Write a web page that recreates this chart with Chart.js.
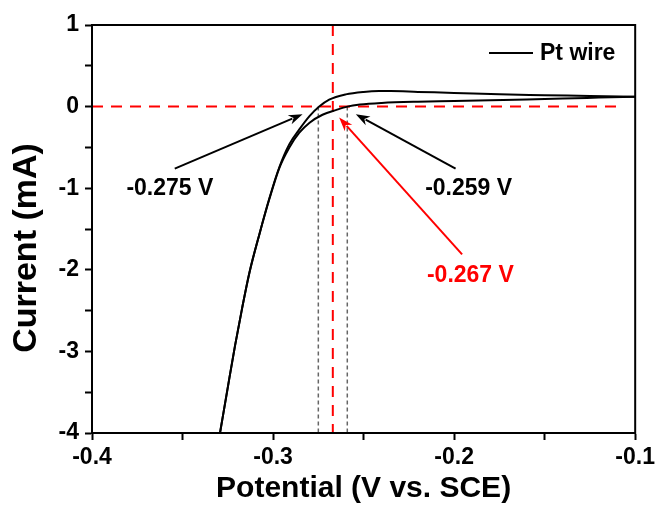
<!DOCTYPE html>
<html>
<head>
<meta charset="utf-8">
<script src="https://cdn.jsdelivr.net/npm/chart.js@4.4.1/dist/chart.umd.min.js"></script>
<style>
  html, body { margin: 0; padding: 0; background: #fff; }
  #wrap { width: 659px; height: 511px; }
</style>
</head>
<body>
<div id="wrap"><canvas id="lsv"></canvas></div>
<script>
// forward scan (lower branch), -0.1 V going negative
var fwdX = [-0.10, -0.12, -0.14, -0.16, -0.18, -0.20, -0.22, -0.24, -0.252, -0.259, -0.265, -0.2727, -0.28, -0.2855, -0.291, -0.2965, -0.302, -0.3075, -0.313, -0.317, -0.321, -0.325, -0.329, -0.331];
var fwdY = [0.12, 0.11, 0.10, 0.088, 0.078, 0.068, 0.06, 0.045, 0.025, 0.0, -0.04, -0.10, -0.20, -0.32, -0.50, -0.75, -1.13, -1.56, -2.03, -2.46, -2.93, -3.44, -3.96, -4.22];

// reverse scan (upper branch), back to -0.1 V
var revX = [-0.331, -0.329, -0.325, -0.321, -0.317, -0.313, -0.3075, -0.302, -0.2965, -0.291, -0.2855, -0.28, -0.2745, -0.269, -0.2598, -0.25, -0.2414, -0.235, -0.22, -0.20, -0.175, -0.15, -0.125, -0.10];
var revY = [-4.22, -3.96, -3.44, -2.93, -2.46, -2.03, -1.56, -1.12, -0.74, -0.46, -0.28, -0.12, 0.0, 0.085, 0.15, 0.18, 0.19, 0.19, 0.18, 0.168, 0.15, 0.14, 0.13, 0.12];

// onset potentials (V)
var onsetFwd = -0.259;
var onsetRev = -0.275;
var onsetMean = -0.267;

var xTicks = [-0.4, -0.3, -0.2, -0.1];
var yTicks = [1, 0, -1, -2, -3, -4];

var seriesName = 'Pt wire';

function pts(xs, ys) {
    return xs.map(function (x, i) { return {x: x, y: ys[i]}; });
}

var FONT = '"Liberation Sans", Arial, sans-serif';

// box, legend, y title, arrows and labels
var decorPlugin = {
    id: 'decor',
    afterDatasetsDraw: function (chart) {
        var ctx = chart.ctx;
        var a = chart.chartArea;
        var xs = chart.scales.x, ys = chart.scales.y;
        var px = function (v) { return xs.getPixelForValue(v); };
        var py = function (v) { return ys.getPixelForValue(v); };

        ctx.save();
        ctx.strokeStyle = '#000';
        ctx.lineWidth = 2;
        ctx.strokeRect(a.left, a.top, a.right - a.left, a.bottom - a.top);

        // legend
        ctx.beginPath();
        ctx.lineWidth = 2;
        ctx.moveTo(489, 53);
        ctx.lineTo(533, 53);
        ctx.stroke();
        ctx.fillStyle = '#000';
        ctx.font = 'bold 23px ' + FONT;
        ctx.textAlign = 'left';
        ctx.textBaseline = 'middle';
        ctx.fillText(seriesName, 540, 54);

        // y axis title (sits a bit below the axis centre in the original)
        ctx.save();
        ctx.translate(27, 248);
        ctx.rotate(-Math.PI / 2);
        ctx.textAlign = 'center';
        ctx.font = 'bold 34px ' + FONT;
        ctx.fillText('Current (mA)', 0, 0);
        ctx.restore();

        function arrow(x0, y0, x1, y1, color) {
            var X0 = px(x0), Y0 = py(y0), X1 = px(x1), Y1 = py(y1);
            var ang = Math.atan2(Y1 - Y0, X1 - X0);
            var len = 14, w = 5;
            ctx.strokeStyle = color;
            ctx.fillStyle = color;
            ctx.lineWidth = 2;
            ctx.beginPath();
            ctx.moveTo(X0, Y0);
            ctx.lineTo(X1 - Math.cos(ang) * len * 0.8, Y1 - Math.sin(ang) * len * 0.8);
            ctx.stroke();
            ctx.beginPath();
            ctx.moveTo(X1, Y1);
            ctx.lineTo(X1 - Math.cos(ang) * len + Math.sin(ang) * w, Y1 - Math.sin(ang) * len - Math.cos(ang) * w);
            ctx.lineTo(X1 - Math.cos(ang) * len * 0.7, Y1 - Math.sin(ang) * len * 0.7);
            ctx.lineTo(X1 - Math.cos(ang) * len - Math.sin(ang) * w, Y1 - Math.sin(ang) * len + Math.cos(ang) * w);
            ctx.closePath();
            ctx.fill();
        }
        arrow(-0.3543, -0.76, -0.2837, -0.094, '#000');
        arrow(-0.1992, -0.76, -0.2543, -0.094, '#000');
        arrow(-0.1956, -1.81, -0.2635, -0.135, '#f00');

        ctx.font = 'bold 23px ' + FONT;
        ctx.textAlign = 'center';
        ctx.fillStyle = '#000';
        ctx.fillText(onsetRev.toFixed(3) + ' V', px(-0.357), py(-1.0));
        ctx.fillText(onsetFwd.toFixed(3) + ' V', px(-0.192), py(-1.0));
        ctx.fillStyle = '#f00';
        ctx.fillText(onsetMean.toFixed(3) + ' V', px(-0.191), py(-2.07));
        ctx.restore();
    }
};

var isMajorX = function (v) {
    return Math.abs(v * 10 - Math.round(v * 10)) < 1e-6;
};

var curve = function (label, data) {
    return {
        label: label,
        data: data,
        showLine: true,
        borderColor: '#000',
        borderWidth: 2,
        pointRadius: 0,
        cubicInterpolationMode: 'monotone',
        order: 1
    };
};

var guide = function (label, data, color, width, dash) {
    return {
        label: label,
        data: data,
        showLine: true,
        borderColor: color,
        borderWidth: width,
        borderDash: dash,
        pointRadius: 0,
        order: 2
    };
};

new Chart(document.getElementById('lsv'), {
    type: 'scatter',
    data: {
        datasets: [
            curve(seriesName, pts(fwdX, fwdY)),
            curve(seriesName + ' rev', pts(revX, revY)),
            guide('zero', [{x: -0.4, y: 0}, {x: -0.108, y: 0}], '#f00', 2, [11, 8]),
            guide('mean', [{x: onsetMean, y: 1}, {x: onsetMean, y: -4}], '#f00', 2, [11, 8]),
            guide('rev onset', [{x: onsetRev, y: 0}, {x: onsetRev, y: -4}], '#666', 1.5, [4, 3]),
            guide('fwd onset', [{x: onsetFwd, y: 0}, {x: onsetFwd, y: -4}], '#666', 1.5, [4, 3])
        ]
    },
    options: {
        responsive: true,
        maintainAspectRatio: false,
        animation: false,
        layout: { padding: { top: 25, right: 22, left: 0, bottom: 0 } },
        plugins: {
            legend: { display: false },
            tooltip: { enabled: false }
        },
        scales: {
            x: {
                type: 'linear',
                min: xTicks[0],
                max: xTicks[xTicks.length - 1],
                afterFit: function (s) { s.height = 78; },
                afterBuildTicks: function (s) {
                    var t = [];
                    for (var i = 0; i <= 6; i++) t.push({value: -0.4 + i * 0.05});
                    s.ticks = t;
                },
                ticks: {
                    color: '#000',
                    padding: 4,
                    maxRotation: 0,
                    autoSkip: false,
                    font: { family: FONT, size: 23, weight: 'bold' },
                    callback: function (v) { return isMajorX(v) ? v.toFixed(1) : ''; }
                },
                grid: {
                    drawOnChartArea: false,
                    drawTicks: true,
                    tickLength: 7,
                    tickWidth: 2,
                    tickColor: '#000'
                },
                border: { color: '#000', width: 2 },
                title: {
                    display: true,
                    text: 'Potential (V vs. SCE)',
                    color: '#000',
                    padding: { top: 0, bottom: 4 },
                    font: { family: FONT, size: 30, weight: 'bold' }
                }
            },
            y: {
                type: 'linear',
                min: yTicks[yTicks.length - 1],
                max: yTicks[0],
                afterFit: function (s) { s.width = 92; },
                ticks: {
                    stepSize: 0.5,
                    color: '#000',
                    padding: 6,
                    autoSkip: false,
                    font: { family: FONT, size: 23, weight: 'bold' },
                    callback: function (v) { return Number.isInteger(v) ? String(v) : ''; }
                },
                grid: {
                    drawOnChartArea: false,
                    drawTicks: true,
                    tickLength: 7,
                    tickWidth: 2,
                    tickColor: '#000'
                },
                border: { color: '#000', width: 2 }
            }
        }
    },
    plugins: [decorPlugin]
});
</script>
</body>
</html>
